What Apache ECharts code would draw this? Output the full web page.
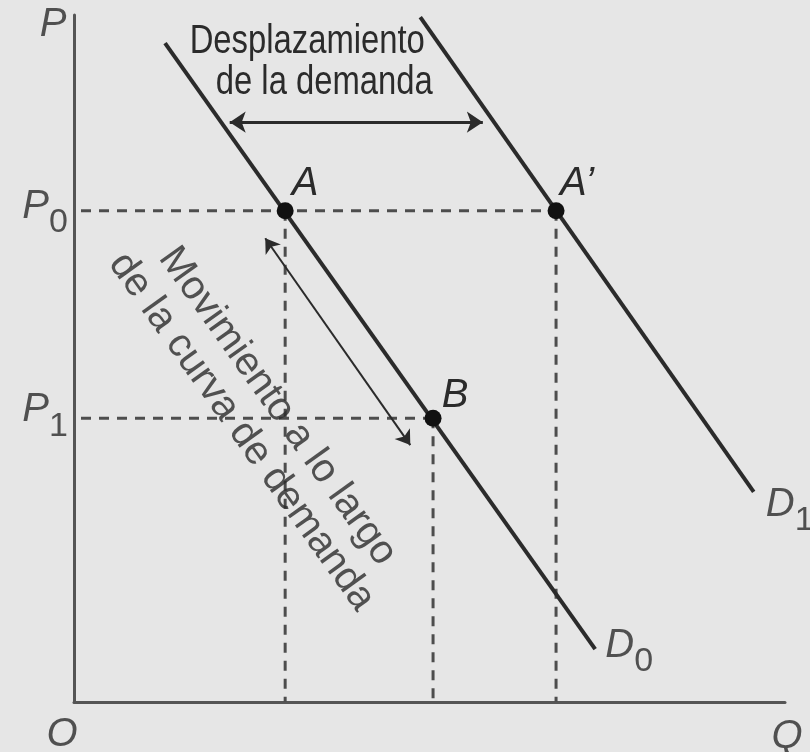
<!DOCTYPE html>
<html>
<head>
<meta charset="utf-8">
<script src="https://cdn.jsdelivr.net/npm/echarts@6/dist/echarts.min.js"></script>
<style>
  html, body { margin: 0; padding: 0; background: #e6e6e6; }
  #chart { width: 810px; height: 752px; }
</style>
</head>
<body>
<div id="chart"></div>
<script>
// axes: quantity (x) and price (y), arbitrary units
var qMax = 10;
var pMax = 10;

// price levels on the vertical axis
var priceNames = ['0', '1'];
var priceLevels = [7.15, 4.13];

// demand curves, end points [Q, P]
var demandNames = ['0', '1'];
var demandD0 = [[1.28, 9.59], [7.33, 0.77]];
var demandD1 = [[4.87, 9.97], [9.56, 3.06]];

// marked points
var pointNames = ['A', 'B', 'A\u2019'];
var pointQ = [2.97, 5.05, 6.78];
var pointP = [priceLevels[0], priceLevels[1], priceLevels[0]];

// arrows [start, end]
var shiftArrow = [[2.19, 8.44], [5.75, 8.44]];
var moveArrow = [[2.69, 6.75], [4.73, 3.74]];

var ink = '#2b2b2b';
var guide = '#4d4d4d';
var letterFont = 'Liberation Sans';

var chart = echarts.init(document.getElementById('chart'));

var subRich = {
    m: { fontSize: 40, fontStyle: 'italic', lineHeight: 40, padding: [0, 0, 16, 0], color: ink, fontFamily: letterFont },
    s: { fontSize: 34, fontStyle: 'normal', lineHeight: 34, padding: [16, 0, 0, 0], color: ink, fontFamily: letterFont }
};

function note(coord, text, dx, dy, extra) {
    var label = {
        show: true,
        position: 'inside',
        formatter: text,
        offset: [dx, dy],
        align: 'center',
        verticalAlign: 'middle',
        color: ink,
        fontFamily: letterFont,
        fontSize: 40,
        fontStyle: 'italic',
        rich: subRich
    };
    for (var k in extra) { label[k] = extra[k]; }
    return { value: coord, label: label };
}

var series = [];

// dashed guides: horizontal from the axis, vertical down to the axis
priceLevels.forEach(function (p) {
    var qs = pointQ.filter(function (q, i) { return pointP[i] === p; });
    series.push({
        type: 'line', silent: true, symbol: 'none', z: 1,
        data: [[0, p], [Math.max.apply(null, qs), p]],
        lineStyle: { color: guide, width: 3, type: [10, 8], dashOffset: -7 }
    });
});
pointQ.forEach(function (q, i) {
    series.push({
        type: 'line', silent: true, symbol: 'none', z: 1,
        data: [[q, pointP[i]], [q, 0]],
        lineStyle: { color: guide, width: 3, type: [10, 8] }
    });
});

// demand curves
[demandD0, demandD1].forEach(function (d) {
    series.push({
        type: 'line', silent: true, symbol: 'none', z: 3,
        data: d,
        lineStyle: { color: ink, width: 4 }
    });
});

// arrows
series.push({
    type: 'lines', coordinateSystem: 'cartesian2d', silent: true, z: 3,
    symbol: ['arrow', 'arrow'], symbolSize: 16,
    data: [{ coords: shiftArrow }],
    lineStyle: { color: ink, width: 3, opacity: 1, curveness: 0 }
});
series.push({
    type: 'lines', coordinateSystem: 'cartesian2d', silent: true, z: 3,
    symbol: ['arrow', 'arrow'], symbolSize: 14,
    data: [{ coords: moveArrow }],
    lineStyle: { color: ink, width: 2, opacity: 1, curveness: 0 }
});

// points A, B, A'
var pointOffsets = [[20, -27], [22, -22], [21, -27]];
series.push({
    type: 'scatter', silent: true, z: 4,
    symbolSize: 17,
    itemStyle: { color: '#111', opacity: 1 },
    data: pointQ.map(function (q, i) {
        return {
            value: [q, pointP[i]],
            label: {
                show: true, position: 'inside', formatter: pointNames[i],
                offset: pointOffsets[i], align: 'center', verticalAlign: 'middle',
                color: ink, fontFamily: letterFont, fontSize: 40, fontStyle: 'italic'
            }
        };
    })
});

// axis letters, subscripted labels and the rotated note
var notes = [
    note([0, pMax], 'P', -21, 10),
    note([0, 0], 'O', -12, 33),
    note([qMax, 0], 'Q', 2, 35),
    note([0, priceLevels[0]], '{m|P}{s|' + priceNames[0] + '}', -29, 4),
    note([0, priceLevels[1]], '{m|P}{s|' + priceNames[1] + '}', -29, 0),
    note(demandD0[1], '{m|D}{s|' + demandNames[0] + '}', 34, 5),
    note(demandD1[1], '{m|D}{s|' + demandNames[1] + '}', 36, 21),
    note([2.61, 4.12], 'Movimiento a lo largo\nde la curva de demanda', 0, 0,
        { fontStyle: 'normal', fontSize: 40, lineHeight: 44, rotate: -54.5 })
];
series.push({
    type: 'scatter', silent: true, z: 5, clip: false,
    symbolSize: 1,
    itemStyle: { color: 'rgba(0,0,0,0)' },
    data: notes
});

chart.setOption({
    backgroundColor: '#e6e6e6',
    animation: false,
    grid: { left: 74, right: 25, top: 15, bottom: 50 },
    xAxis: {
        type: 'value', min: 0, max: qMax,
        axisLine: { show: true, onZero: false, lineStyle: { color: '#555', width: 3 } },
        axisTick: { show: false }, axisLabel: { show: false }, splitLine: { show: false }
    },
    yAxis: {
        type: 'value', min: 0, max: pMax,
        axisLine: { show: true, onZero: false, lineStyle: { color: '#555', width: 3 } },
        axisTick: { show: false }, axisLabel: { show: false }, splitLine: { show: false }
    },
    series: series
});

// condensed caption above the shift arrow, placed from the arrow's pixel midpoint
var shiftMid = chart.convertToPixel({ gridIndex: 0 },
    [(shiftArrow[0][0] + shiftArrow[1][0]) / 2, shiftArrow[0][1]]);
function narrowText(text, dx, dy) {
    return {
        type: 'text', silent: true, z: 10,
        x: shiftMid[0] + dx, y: shiftMid[1] + dy, scaleX: 0.82,
        style: {
            text: text, fill: ink, font: '40px "Liberation Sans"',
            textAlign: 'center', textVerticalAlign: 'middle'
        }
    };
}
chart.setOption({
    graphic: [
        narrowText('Desplazamiento', -49, -80),
        narrowText('de la demanda', -32, -39)
    ]
});
</script>
</body>
</html>
